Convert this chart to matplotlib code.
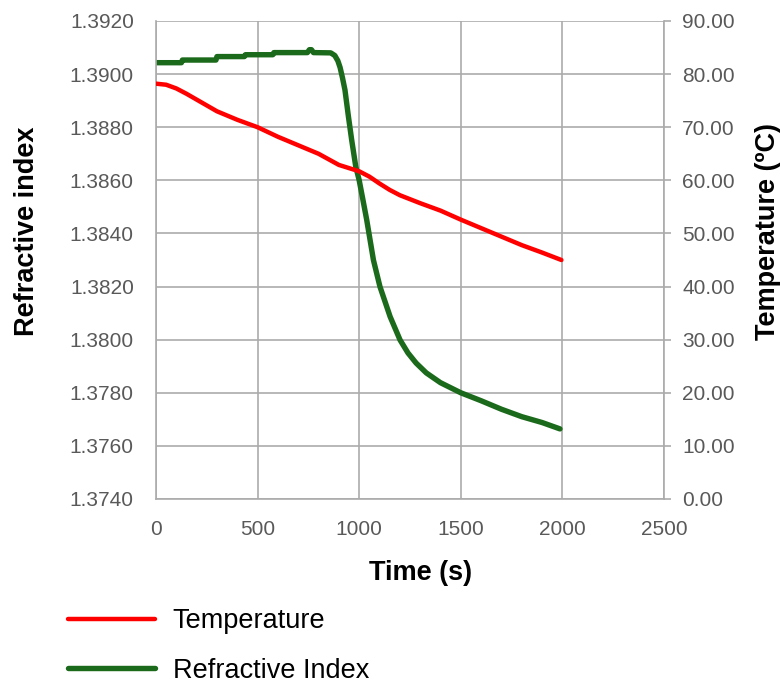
import matplotlib
matplotlib.use("Agg")
import matplotlib.pyplot as plt
from matplotlib.ticker import FormatStrFormatter

# ── Data ──────────────────────────────────────────────────────────────────────

# Temperature (ºC), right axis
TEMP_TIME = [0, 50, 100, 150, 200, 300, 400, 500, 600, 700, 800, 900, 950,
             1000, 1050, 1100, 1150, 1200, 1300, 1400, 1500, 1600, 1700,
             1800, 1900, 1995]
TEMP_VAL = [78.2, 78.0, 77.3, 76.3, 75.2, 73.0, 71.4, 70.0, 68.2, 66.6, 65.0,
            62.9, 62.3, 61.7, 60.7, 59.4, 58.2, 57.2, 55.7, 54.3, 52.6, 51.0,
            49.4, 47.8, 46.4, 45.0]

# Refractive index, left axis
RI_TIME = [0, 125, 130, 295, 300, 435, 440, 575, 580, 745, 755, 765, 775,
           860, 880, 895, 906, 918, 930, 947, 963, 983, 1000, 1020, 1037,
           1070, 1102, 1152, 1201, 1240, 1280, 1330, 1400, 1500, 1600, 1700,
           1800, 1900, 1988]
RI_VAL = [1.39043, 1.39043, 1.39053, 1.39053, 1.39066, 1.39066, 1.39073,
          1.39073, 1.39081, 1.39081, 1.39092, 1.39092, 1.39081, 1.39080,
          1.39070, 1.39050, 1.39025, 1.38985, 1.38940, 1.38840, 1.38752,
          1.38652, 1.38600, 1.38520, 1.38451, 1.38300, 1.38200, 1.38087,
          1.37999, 1.37950, 1.37912, 1.37875, 1.37838, 1.37800, 1.37770,
          1.37738, 1.37710, 1.37688, 1.37664]

X_TICKS = [0, 500, 1000, 1500, 2000, 2500]
RI_TICKS = [1.3740 + 0.002 * i for i in range(10)]
TEMP_TICKS = [10.0 * i for i in range(10)]

# ── Style ─────────────────────────────────────────────────────────────────────

RED = "#ff0000"
GREEN = "#1b6a1b"
GRID = "#ababab"
TICK_TXT = "#595959"

plt.rcParams["font.family"] = ["Liberation Sans", "DejaVu Sans"]

fig = plt.figure(figsize=(7.8, 6.83), dpi=100)
ax = fig.add_axes([156 / 780, 1 - 499 / 683, 508 / 780, 478 / 683])
ax2 = ax.twinx()

ri_line, = ax.plot(RI_TIME, RI_VAL, color=GREEN, linewidth=3.9,
                   solid_capstyle="round", solid_joinstyle="round",
                   label="Refractive Index")
temp_line, = ax2.plot(TEMP_TIME, TEMP_VAL, color=RED, linewidth=3.2,
                      solid_capstyle="round", label="Temperature")

# axes ranges / ticks
ax.set_xlim(0, 2500)
ax.set_ylim(1.3740, 1.3920)
ax2.set_ylim(0, 90)
ax.set_xticks(X_TICKS)
ax.set_yticks(RI_TICKS)
ax2.set_yticks(TEMP_TICKS)
ax.yaxis.set_major_formatter(FormatStrFormatter("%.4f"))
ax2.yaxis.set_major_formatter(FormatStrFormatter("%.2f"))

ax.grid(True, color=GRID, linewidth=1.2)
ax.set_axisbelow(True)

for side in ["top", "right"]:
    ax.spines[side].set_visible(False)
for side in ["left", "bottom"]:
    ax.spines[side].set_color(GRID)
    ax.spines[side].set_linewidth(1.2)
for side in ["top", "left", "bottom"]:
    ax2.spines[side].set_visible(False)
ax2.spines["right"].set_color(GRID)
ax2.spines["right"].set_linewidth(1.2)

ax.tick_params(axis="y", length=0, pad=16, labelsize=15, labelcolor=TICK_TXT)
ax.tick_params(axis="x", length=0, pad=15, labelsize=15, labelcolor=TICK_TXT)
ax2.tick_params(axis="y", length=5, width=1.2, color=GRID, pad=8,
                labelsize=15, labelcolor=TICK_TXT)

# axis titles
ax.set_xlabel("Time (s)", fontsize=19.5, fontweight="bold", va="center")
ax.xaxis.set_label_coords(0.52, -0.155)
ax.set_ylabel("Refractive index", fontsize=19.5, fontweight="bold", va="center")
ax.yaxis.set_label_coords(-0.254, 0.56)
ax2.set_ylabel("Temperature (ºC)", fontsize=19.5, fontweight="bold",
               va="center", rotation=90)
ax2.yaxis.set_label_coords(1.205, 0.56)

# legend below the plot
fig.legend(handles=[temp_line, ri_line],
           labels=["Temperature", "Refractive Index"],
           loc="upper left", bbox_to_anchor=(68 / 780, 1 - 608 / 683),
           frameon=False, fontsize=19.5, handlelength=3.2,
           handletextpad=0.67, labelspacing=0.88, borderpad=0,
           borderaxespad=0)

fig.savefig("out.png", dpi=100)
